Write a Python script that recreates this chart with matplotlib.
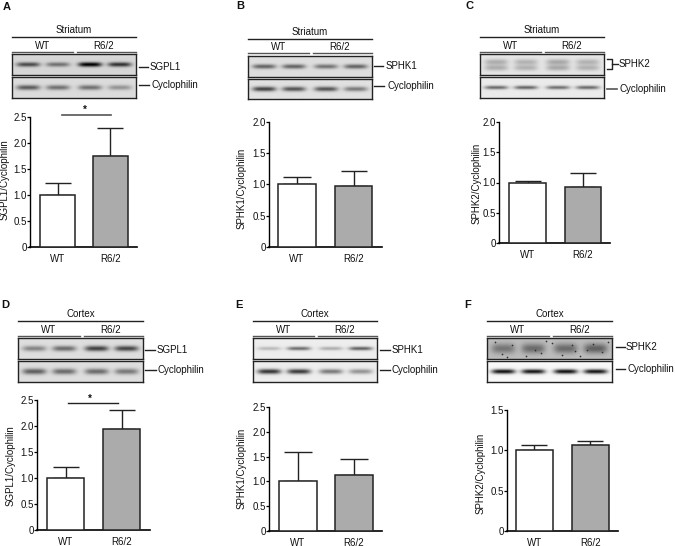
import numpy as np
import matplotlib
matplotlib.use("Agg")
import matplotlib.pyplot as plt
from matplotlib.lines import Line2D

plt.rcParams["font.family"] = ["Liberation Sans", "DejaVu Sans"]

W, H = 675, 546
groups = ["WT", "R6/2"]

# Bar values
sgpl1_str = [1.0, 1.75]
sgpl1_str_top = [1.23, 2.28]
sphk1_str = [1.0, 0.97]
sphk1_str_top = [1.12, 1.21]
sphk2_str = [1.0, 0.92]
sphk2_str_top = [1.03, 1.16]
sgpl1_ctx = [1.0, 1.95]
sgpl1_ctx_top = [1.22, 2.30]
sphk1_ctx = [1.0, 1.13]
sphk1_ctx_top = [1.60, 1.45]
sphk2_ctx = [1.0, 1.06]
sphk2_ctx_top = [1.06, 1.11]

# Band darkness per lane (0 = none, 1 = black)
a_top = [0.55, 0.40, 0.85, 0.65]
a_bot = [0.50, 0.42, 0.42, 0.28]
b_top = [0.48, 0.48, 0.42, 0.48]
b_bot = [0.62, 0.55, 0.55, 0.40]
c_top = [0.22, 0.20, 0.24, 0.20]
c_bot = [0.50, 0.52, 0.48, 0.50]
d_top = [0.35, 0.45, 0.62, 0.60]
d_bot = [0.50, 0.45, 0.45, 0.40]
e_top = [0.20, 0.50, 0.25, 0.55]
e_bot = [0.72, 0.70, 0.45, 0.35]
f_top = [0.28, 0.32, 0.32, 0.36]
f_bot = [0.90, 0.88, 0.90, 0.88]

fig = plt.figure(figsize=(W / 100, H / 100), dpi=100)


def fx(x):
    return x / W


def fy(y):
    return 1 - y / H


def put_text(x, y, s, size=7, ha="left", va="center", **kw):
    fig.text(fx(x), fy(y), s, fontsize=size, ha=ha, va=va, color="#111111", **kw)


def put_line(xs, ys, lw=1.0, color="#222222"):
    fig.add_artist(Line2D([fx(v) for v in xs], [fy(v) for v in ys], lw=lw, color=color))


def draw_blot(x0, x1, y0, y1, dark, bg, sigma=0.13, double=False):
    # grey image with one soft band per lane
    ax = fig.add_axes([fx(x0), fy(y1), fx(x1 - x0), (y1 - y0) / H])
    xx, yy = np.meshgrid(np.linspace(0, 1, 250), np.linspace(0, 1, 60))
    img = np.full(xx.shape, bg, dtype=float)
    for lane, d in zip([0.13, 0.37, 0.63, 0.87], dark):
        shape_x = np.exp(-(((xx - lane) / 0.095) ** 4))
        if double:
            shape_y = np.exp(-(((yy - 0.38) / sigma) ** 2)) + np.exp(-(((yy - 0.66) / sigma) ** 2))
        else:
            shape_y = np.exp(-(((yy - 0.5) / sigma) ** 2))
        img -= d * shape_x * shape_y
    ax.imshow(img, cmap="gray", vmin=0, vmax=1, aspect="auto", extent=[0, 1, 1, 0])
    ax.set_xticks([])
    ax.set_yticks([])
    for s in ax.spines.values():
        s.set_linewidth(1.0)
        s.set_color("#222222")
    return ax


def draw_header(x0, x1, y_line, y_groups, region):
    mid = (x0 + x1) / 2
    put_text(mid, y_line - 7, region, ha="center")
    put_line([x0, x1], [y_line, y_line])
    put_text(x0 + 31, y_groups - 6, "WT", ha="center")
    put_text(x1 - 32, y_groups - 6, "R6/2", ha="center")
    put_line([x0, mid - 1], [y_groups, y_groups], color="#555555")
    put_line([mid + 3, x1], [y_groups, y_groups], color="#555555")


def draw_bars(box, bars1, bars2, vals, tops, ymax, yticks, ylabel, lab_x, lab_y):
    # box is axis x, right end, y of zero, y of ymax in pixels
    ax_x, ax_r, y_zero, y_top = box
    ax = fig.add_axes([fx(ax_x), fy(y_zero), fx(ax_r - ax_x), (y_zero - y_top) / H])
    ax.set_xlim(ax_x, ax_r)
    ax.set_ylim(0, ymax)
    lefts = [bars1[0], bars2[0]]
    widths = [bars1[1] - bars1[0], bars2[1] - bars2[0]]
    ax.bar(lefts, vals, width=widths, align="edge", color=["white", "#ababab"],
           edgecolor="#222222", linewidth=1.1, zorder=3)
    for left, w, v, t in zip(lefts, widths, vals, tops):
        c = left + w / 2
        ax.errorbar(c, v, yerr=[[0], [t - v]], color="#222222", lw=1.0, capsize=w * 0.26,
                    capthick=1.0, zorder=2)
    ax.set_xticks([l + w / 2 for l, w in zip(lefts, widths)])
    ax.set_xticklabels(groups, fontsize=7, color="#111111")
    ax.set_yticks(yticks)
    ax.set_yticklabels(["0" if v == 0 else f"{v:.1f}" for v in yticks], fontsize=7, color="#111111")
    ax.tick_params(axis="x", length=0, pad=5)
    ax.tick_params(axis="y", length=2, width=0.9, pad=0.5)
    ax.spines["top"].set_visible(False)
    ax.spines["right"].set_visible(False)
    ax.spines["left"].set_linewidth(1.0)
    ax.spines["bottom"].set_linewidth(1.2)
    ax.patch.set_alpha(0)
    fig.text(fx(lab_x), fy(lab_y), ylabel, rotation=90, fontsize=7, ha="center", va="center",
             color="#111111")
    return ax


# Panel letters
for letter, x, y in [("A", 7, 7), ("B", 240, 6), ("C", 469, 6), ("D", 5, 305), ("E", 239, 305), ("F", 468, 305)]:
    put_text(x, y, letter, size=8, ha="center", fontweight="bold")

# A
draw_header(12, 136, 37, 52, "Striatum")
draw_blot(12, 136, 54, 75, a_top, 0.84, sigma=0.11)
draw_blot(12, 136, 77, 98, a_bot, 0.86, sigma=0.12)
put_line([139, 148], [67, 67])
put_text(150, 67, "SGPL1")
put_line([139, 149], [85, 85])
put_text(151, 85, "Cyclophilin")
draw_bars((30, 137, 247, 117), (40, 75), (93, 128), sgpl1_str, sgpl1_str_top, 2.5,
          [0, 0.5, 1.0, 1.5, 2.0, 2.5], "SGPL1/Cyclophilin", 5, 180)
put_line([62, 111], [115, 115], lw=1.2, color="#555555")
put_text(85, 110, "*", ha="center", fontweight="bold")

# B
draw_header(248, 372, 39, 53, "Striatum")
draw_blot(248, 372, 56, 77, b_top, 0.87, sigma=0.11)
draw_blot(248, 372, 79, 99, b_bot, 0.88, sigma=0.12)
put_line([374, 383], [66, 66])
put_text(386, 66, "SPHK1")
put_line([374, 384], [86, 86])
put_text(387, 86, "Cyclophilin")
draw_bars((269, 382, 247, 122), (278, 316), (335, 372), sphk1_str, sphk1_str_top, 2.0,
          [0, 0.5, 1.0, 1.5, 2.0], "SPHK1/Cyclophilin", 242, 188)

# C
draw_header(480, 604, 37, 52, "Striatum")
draw_blot(480, 604, 54, 75, c_top, 0.90, sigma=0.14, double=True)
draw_blot(480, 604, 77, 98, c_bot, 0.92, sigma=0.09)
put_line([607, 612, 612, 607], [59, 59, 69, 69])
put_line([612, 618], [64, 64])
put_text(619, 64, "SPHK2")
put_line([607, 617], [89, 89], lw=1.2, color="#555555")
put_text(619, 89, "Cyclophilin")
draw_bars((499, 610, 243, 122), (509, 546), (565, 601), sphk2_str, sphk2_str_top, 2.0,
          [0, 0.5, 1.0, 1.5, 2.0], "SPHK2/Cyclophilin", 477, 183)

# D
draw_header(18, 143, 321, 336, "Cortex")
draw_blot(18, 143, 338, 359, d_top, 0.87, sigma=0.13)
draw_blot(18, 143, 361, 382, d_bot, 0.87, sigma=0.14)
put_line([145, 155], [350, 350])
put_text(157, 350, "SGPL1")
put_line([145, 156], [370, 370])
put_text(158, 370, "Cyclophilin")
draw_bars((37, 150, 530, 400), (47, 84), (103, 140), sgpl1_ctx, sgpl1_ctx_top, 2.5,
          [0, 0.5, 1.0, 1.5, 2.0, 2.5], "SGPL1/Cyclophilin", 11, 466)
put_line([68, 118], [403, 403], lw=1.0)
put_text(90, 399, "*", ha="center", fontweight="bold")

# E
draw_header(253, 377, 321, 336, "Cortex")
draw_blot(253, 377, 338, 359, e_top, 0.93, sigma=0.09)
draw_blot(253, 377, 361, 382, e_bot, 0.93, sigma=0.12)
put_line([380, 390], [350, 350])
put_text(392, 350, "SPHK1")
put_line([380, 390], [370, 370])
put_text(392, 370, "Cyclophilin")
draw_bars((269, 382, 531, 407), (279, 317), (335, 373), sphk1_ctx, sphk1_ctx_top, 2.5,
          [0, 0.5, 1.0, 1.5, 2.0, 2.5], "SPHK1/Cyclophilin", 242, 468)

# F
draw_header(487, 612, 321, 336, "Cortex")
speck_ax = draw_blot(487, 612, 338, 359, f_top, 0.74, sigma=0.24)
speck_x = [0.06, 0.12, 0.2, 0.31, 0.38, 0.43, 0.52, 0.6, 0.68, 0.74, 0.8, 0.85, 0.92, 0.97, 0.16, 0.47, 0.7]
speck_y = [0.2, 0.75, 0.35, 0.85, 0.55, 0.7, 0.25, 0.8, 0.35, 0.85, 0.55, 0.3, 0.65, 0.2, 0.9, 0.15, 0.6]
speck_ax.scatter(speck_x, speck_y, s=1.5, color="#333333", linewidths=0)
draw_blot(487, 612, 361, 382, f_bot, 0.97, sigma=0.11)
put_line([616, 625], [347, 347])
put_text(626, 347, "SPHK2")
put_line([616, 625], [369, 369])
put_text(627, 369, "Cyclophilin")
draw_bars((507, 618, 531, 410), (516, 553), (572, 609), sphk2_ctx, sphk2_ctx_top, 1.5,
          [0, 0.5, 1.0, 1.5], "SPHK2/Cyclophilin", 481, 473)

fig.savefig("out.png", dpi=100)
